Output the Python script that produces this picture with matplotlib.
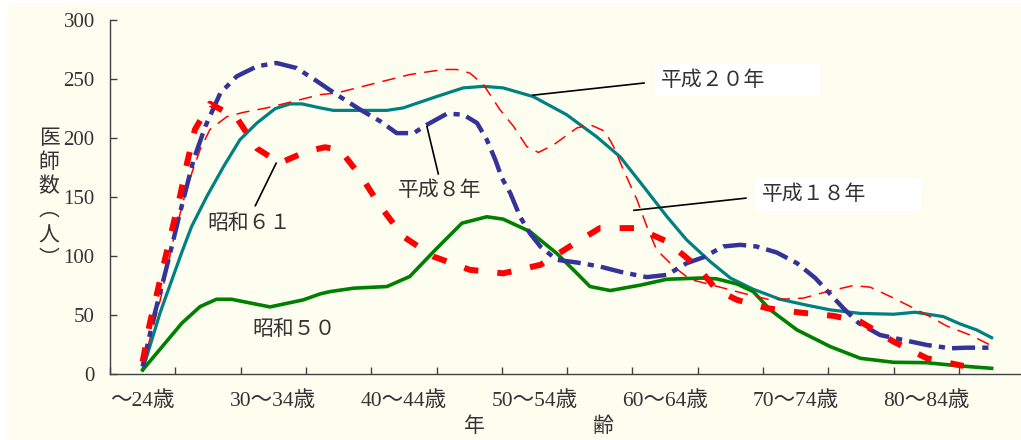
import matplotlib
matplotlib.use('Agg')
import matplotlib.pyplot as plt
from matplotlib.patches import Rectangle

# ---------------- data (x = age-group position, 0 = "～24歳", 1 = "25～29歳", ...) ----------------
tick_labels = ["～24歳", "30～34歳", "40～44歳", "50～54歳", "60～64歳", "70～74歳", "80～84歳"]
tick_label_pos = [0, 2, 4, 6, 8, 10, 12]
n_groups = 14

s50_x = [0, 0.6, 0.88, 1.13, 1.36, 1.95, 2.46, 2.72, 2.87, 3.23, 3.74, 4.09, 4.5, 4.89, 5.27, 5.52,
         5.93, 6.34, 6.65, 6.85, 7.16, 7.62, 8.03, 8.55, 8.79, 9.1, 9.35, 9.61, 10.02, 10.53, 10.99,
         11.5, 12.0, 12.52, 13.0]
s50_y = [3, 42.7, 56.8, 63, 63, 56.5, 62.5, 67.6, 69.5, 72.4, 73.8, 82.3, 106, 127.6, 133, 131,
         120.5, 102, 85, 73.8, 70.4, 75, 80, 81, 80.3, 76, 69.5, 54, 37, 22.8, 12.9,
         9.5, 9.2, 6.4, 4.4]

s61_x = [0, 0.11, 0.22, 0.34, 0.45, 0.57, 0.68, 0.8, 1.03, 1.44, 1.75, 2.1, 2.51, 2.79, 3.02, 3.38,
         3.64, 3.99, 4.45, 5.01, 5.52, 6.09, 6.54, 7.0, 7.57, 8.03, 8.49, 8.79, 9.1, 9.56, 10.07,
         10.58, 10.99, 11.5, 12.01, 12.57]
s61_y = [10, 42.7, 68, 96.5, 122, 150, 178.6, 207, 229, 217, 191, 178.6, 188.5, 192, 190, 164.4,
         141.8, 116.3, 99.3, 88, 85, 92.2, 107.8, 123.4, 123.4, 112, 90.8, 71, 62.5, 55.4, 51.7,
         48.9, 44, 27, 12.9, 6.4]

h8_x = [0, 0.16, 0.37, 0.57, 0.78, 0.96, 1.19, 1.44, 1.75, 2.05, 2.36, 2.67, 2.97, 3.33, 3.64, 3.89,
        4.15, 4.35, 4.66, 4.91, 5.12, 5.27, 5.4, 5.5, 5.63, 5.78, 5.93, 6.09, 6.34, 6.65, 7.0, 7.36,
        7.72, 8.03, 8.33, 8.59, 8.89, 9.15, 9.4, 9.71, 10.02, 10.3, 10.73, 10.96, 11.29, 11.6,
        12.01, 12.37, 12.62, 13.0]
h8_y = [6, 45.5, 90.8, 136, 181.4, 209.7, 238, 252.2, 260.7, 263.5, 259.2, 248, 236.7, 224, 214, 204,
        204, 211, 220.5, 219.7, 212.6, 198.4, 181.4, 166, 153, 133, 119, 107.8, 96.5, 94.2, 90.8, 85.7,
        81.8, 83.7, 93.6, 98.7, 107.8, 109.2, 107.8, 102.7, 93.6, 81, 55.4, 43, 32.7, 29,
        24.2, 21.4, 21.9, 21.9]

h18_x = [0, 0.27, 0.47, 0.68, 0.88, 1.03, 1.29, 1.54, 1.9, 2.21, 2.72, 2.97, 3.58, 4.09, 4.6, 4.81,
         5.01, 5.22, 5.47, 5.68, 5.88, 6.06, 6.29, 6.65, 6.85, 7.08, 7.21, 7.36, 7.57, 7.72, 7.87,
         8.13, 8.38, 8.84, 9.2, 9.61, 10.12, 10.48, 10.88, 11.14, 11.5, 12.01, 12.31, 12.67, 13.0]
h18_y = [6, 62.5, 113.4, 158.7, 190, 207, 218, 221.6, 225.4, 229.6, 236.7, 238, 246.6, 253.7, 258, 258,
         255, 245, 224, 209.7, 192.7, 187.6, 194, 208.4, 211.2, 205.5, 192.7, 173, 147.4, 124.8, 105,
         90.8, 80, 73.3, 68, 62.5, 64, 69.5, 74.6, 73.3, 64, 49.7, 40.4, 32.7, 23.6]

h20_x = [0, 0.27, 0.6, 0.75, 0.98, 1.24, 1.49, 1.75, 2.03, 2.26, 2.44, 2.72, 2.92, 3.74, 3.99, 4.5, 4.91,
         5.22, 5.52, 5.98, 6.49, 6.95, 7.31, 7.67, 8.03, 8.33, 8.69, 9.0, 9.35, 9.76, 10.17, 10.53,
         10.99, 11.5, 11.83, 12.26, 12.52, 12.77, 13.0]
h20_y = [3, 52, 103, 124.8, 150, 175.7, 198.4, 212.6, 224.8, 228.8, 228.8, 225.4, 223.3, 223.3, 225.4, 235, 242.4,
         243.7, 242.4, 235, 219.7, 201, 184, 158.7, 133, 113.4, 95, 81, 71.5, 63, 58, 54,
         51, 50.3, 52, 48.3, 42, 37, 30.4]

# ---------------- figure ----------------
W, H = 1021, 440
fig = plt.figure(figsize=(W / 100, H / 100), dpi=100, facecolor='white')
bg = Rectangle((7 / W, 0), 1, 437 / H, transform=fig.transFigure,
               facecolor='#FEFEF0', edgecolor='none', zorder=-10)
fig.patches.append(bg)
ax = fig.add_axes([110 / W, (H - 373.5) / H, (W - 110) / W, (373.5 - 20) / H])
ax.set_zorder(1)
ax.set_facecolor('none')
ax.set_xlim(-0.5, 13.45)
ax.set_ylim(0, 300)

CJK = ['Liberation Serif', 'Noto Sans CJK JP']
TXT = '#333333'

for s in ['top', 'right']:
    ax.spines[s].set_visible(False)
for s in ['left', 'bottom']:
    ax.spines[s].set_color('#404040')
    ax.spines[s].set_linewidth(1.0)

ax.set_yticks(range(0, 301, 50))
ax.tick_params(axis='y', direction='in', length=5, width=1, color='#404040', pad=11,
               labelsize=15, labelcolor=TXT)
for lab in ax.get_yticklabels():
    lab.set_family(CJK)

ax.set_xticks([k - 0.5 for k in range(n_groups)])
ax.set_xticklabels([])
ax.tick_params(axis='x', which='major', direction='in', length=5, width=1, color='#404040')
ax.set_xticks(tick_label_pos, minor=True)
ax.set_xticklabels(tick_labels, minor=True)
ax.tick_params(axis='x', which='minor', length=0, pad=13, labelsize=15.5, labelcolor=TXT)
for lab in ax.get_xticklabels(minor=True):
    lab.set_family(CJK)

# ---------------- series ----------------
ax.plot(h20_x, h20_y, color='#008080', lw=2.3, zorder=3, solid_joinstyle='round')
ax.plot(s50_x, s50_y, color='#008000', lw=2.6, zorder=3, solid_joinstyle='round')
ax.plot(h18_x, h18_y, color='#FF0000', lw=1.1, ls=(0, (8.7, 5.3)), zorder=4)
ax.plot(h8_x, h8_y, color='#333399', lw=3.2, ls=(0, (5.2, 1.6, 1.4, 1.6)), zorder=5,
        dash_capstyle='butt')
ax.plot(s61_x, s61_y, color='#FF0000', lw=4.3, ls=(0, (2.4, 3.2)), zorder=6,
        dash_capstyle='butt')

# ---------------- annotations ----------------
lab_kw = dict(fontsize=15, color=TXT, family=['Noto Sans CJK JP'], va='center', ha='left', zorder=8)
ax.add_patch(Rectangle((7.85, 235.8), 2.52, 28, facecolor='white', edgecolor='none', zorder=7))
ax.add_patch(Rectangle((9.38, 138), 2.54, 28, facecolor='white', edgecolor='none', zorder=7))
ax.text(7.94, 249, "平成２０年", **lab_kw)
ax.text(9.49, 152, "平成１８年", **lab_kw)
ax.text(3.91, 156, "平成８年", **lab_kw)
ax.text(0.99, 128, "昭和６１", **lab_kw)
ax.text(1.68, 38, "昭和５０", **lab_kw)

lead_kw = dict(color='black', lw=1.2, zorder=7, solid_capstyle='butt')
ax.plot([5.96, 7.69], [236.1, 246.6], **lead_kw)
ax.plot([4.35, 4.53], [210.3, 168.7], **lead_kw)
ax.plot([7.51, 9.25], [138.4, 148.9], **lead_kw)
ax.plot([2.05, 1.72], [179.1, 141.8], **lead_kw)

# y-axis title (vertical)
for ch, yc in zip("医師数︵人︶", [138, 162, 186, 210, 236, 259]):
    fig.text(49 / W, 1 - yc / H, ch, fontsize=15, color=TXT, family=['Noto Sans CJK JP'],
             ha='center', va='center')
# x-axis title
fig.text(474 / W, 1 - 426 / H, "年", fontsize=15, color=TXT, family=['Noto Sans CJK JP'],
         ha='center', va='center')
fig.text(603 / W, 1 - 426 / H, "齢", fontsize=15, color=TXT, family=['Noto Sans CJK JP'],
         ha='center', va='center')

fig.savefig('out.png', dpi=100, facecolor=fig.get_facecolor())
